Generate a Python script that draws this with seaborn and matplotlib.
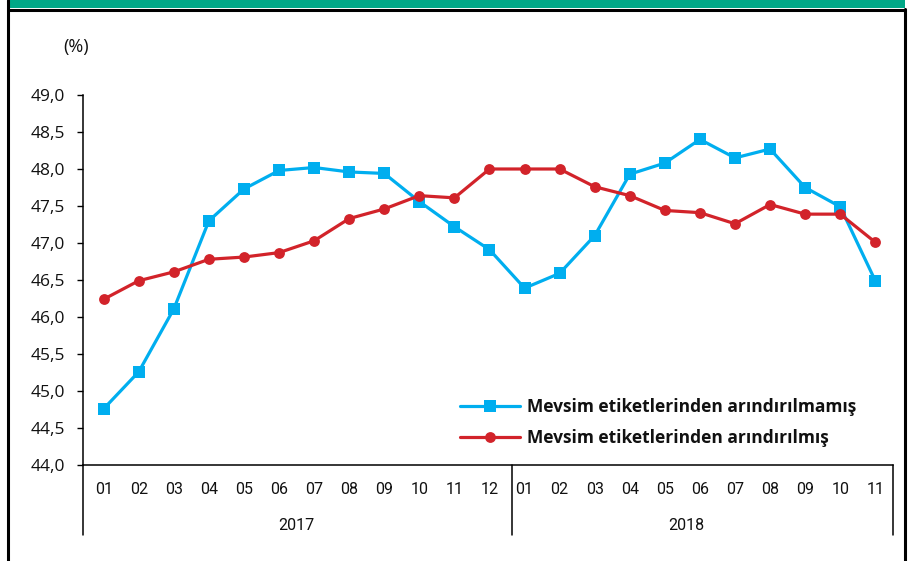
import matplotlib
matplotlib.use("Agg")
import matplotlib.pyplot as plt
import matplotlib.patches as mpatches
import matplotlib.transforms as mtransforms
from matplotlib.lines import Line2D
import pandas as pd
import seaborn as sns

# Months of the two years shown on the category axis
months = ["01", "02", "03", "04", "05", "06", "07", "08", "09", "10", "11", "12",
          "01", "02", "03", "04", "05", "06", "07", "08", "09", "10", "11"]
years = ["2017", "2018"]

# Rates (%)
unadjusted = [44.76, 45.26, 46.11, 47.30, 47.73, 47.98, 48.02, 47.96, 47.94, 47.56, 47.22, 46.91,
              46.39, 46.59, 47.10, 47.93, 48.08, 48.40, 48.15, 48.27, 47.75, 47.49, 46.49]
adjusted = [46.24, 46.49, 46.61, 46.78, 46.81, 46.87, 47.03, 47.33, 47.46, 47.64, 47.61, 48.00,
            48.00, 48.00, 47.76, 47.64, 47.44, 47.41, 47.26, 47.52, 47.39, 47.39, 47.01]

series_names = ["Mevsim etiketlerinden arındırılmamış", "Mevsim etiketlerinden arındırılmış"]
y_ticks = [44.0, 44.5, 45.0, 45.5, 46.0, 46.5, 47.0, 47.5, 48.0, 48.5, 49.0]
y_labels = ["44,0", "44,5", "45,0", "45,5", "46,0", "46,5", "47,0", "47,5", "48,0", "48,5", "49,0"]

BLUE = "#00AEEF"
RED = "#D2232A"
GREEN = "#00A887"
TEXT = "#111111"
CAT_FONT = ["Roboto", "Open Sans", "DejaVu Sans"]

sns.set_theme(style="white")
plt.rcParams["font.family"] = ["Open Sans", "DejaVu Sans"]

W, H = 908, 561
fig = plt.figure(figsize=(W / 100, H / 100), dpi=100)
fig.patch.set_facecolor("white")

# Frame: green header band, black rule under it, side borders
fig.patches.append(mpatches.Rectangle((8 / W, 1 - 8 / H), 897 / W, 8 / H, transform=fig.transFigure,
                                      facecolor=GREEN, edgecolor="none", zorder=0))
fig.add_artist(Line2D([8 / W, 905 / W], [1 - 9.5 / H, 1 - 9.5 / H], transform=fig.transFigure,
                      color="black", lw=2.2))
fig.add_artist(Line2D([8 / W, 8 / W], [0, 1], transform=fig.transFigure, color="black", lw=2.2))
fig.add_artist(Line2D([905 / W, 905 / W], [0, 1 - 9 / H], transform=fig.transFigure, color="black", lw=2.2))

ax_left, ax_right, ax_top, ax_bottom = 83, 893, 95, 465
ax = fig.add_axes([ax_left / W, 1 - ax_bottom / H, (ax_right - ax_left) / W, (ax_bottom - ax_top) / H])
ax.set_facecolor("white")

x = list(range(len(months)))
df = pd.DataFrame({"x": x * 2,
                   "value": unadjusted + adjusted,
                   "series": [series_names[0]] * len(x) + [series_names[1]] * len(x)})

sns.lineplot(data=df, x="x", y="value", hue="series", style="series",
             palette=[BLUE, RED], markers=["s", "o"], dashes=False,
             markersize=9, markeredgewidth=0, linewidth=2.3, ax=ax, legend=False)
ax.lines[1].set_markersize(7.8)

ax.set_xlim(-0.59, 22.505)
ax.set_ylim(44.0, 49.0)
ax.set_xlabel("")
ax.set_ylabel("")

ax.set_yticks(y_ticks)
ax.set_yticklabels(y_labels, fontsize=12.5, color=TEXT)
ax.tick_params(axis="y", direction="out", length=4, width=1, color="black", pad=9, left=True)
ax.set_xticks(x)
ax.set_xticklabels(months, fontsize=11.5, color=TEXT, family=CAT_FONT)
ax.tick_params(axis="x", length=0, pad=12)

for side in ["top", "right"]:
    ax.spines[side].set_visible(False)
for side in ["left", "bottom"]:
    ax.spines[side].set_color("black")
    ax.spines[side].set_linewidth(1.1)

# Year grouping lines and labels under the month axis
trans = mtransforms.blended_transform_factory(ax.transData, ax.transAxes)
low = -(535 - ax_bottom) / (ax_bottom - ax_top)
for xv in [-0.59, 11.63, 22.505]:
    ax.add_line(Line2D([xv, xv], [0, low], transform=trans, color="black", lw=1.1, clip_on=False))
year_y = -(525 - ax_bottom) / (ax_bottom - ax_top)
for xv, yr in zip([5.5, 16.6], years):
    ax.text(xv, year_y, yr, transform=trans, ha="center", va="center", fontsize=11.5,
            family=CAT_FONT, color=TEXT)

fig.text(76 / W, 1 - 47 / H, "(%)", ha="center", va="center", fontsize=13, color=TEXT)

handles = [Line2D([], [], color=BLUE, marker="s", markersize=9, markeredgewidth=0, lw=2.3),
           Line2D([], [], color=RED, marker="o", markersize=7.8, markeredgewidth=0, lw=2.3)]
leg = fig.legend(handles, series_names, loc="upper left",
                 bbox_to_anchor=(460 / W, 1 - 398 / H), frameon=False,
                 handlelength=3.45, handletextpad=0.4, labelspacing=0.75,
                 borderpad=0, borderaxespad=0,
                 prop={"family": ["Open Sans", "DejaVu Sans"], "weight": "bold", "size": 12.5})
for t in leg.get_texts():
    t.set_color(TEXT)

fig.savefig("out.png", dpi=100, facecolor="white")
